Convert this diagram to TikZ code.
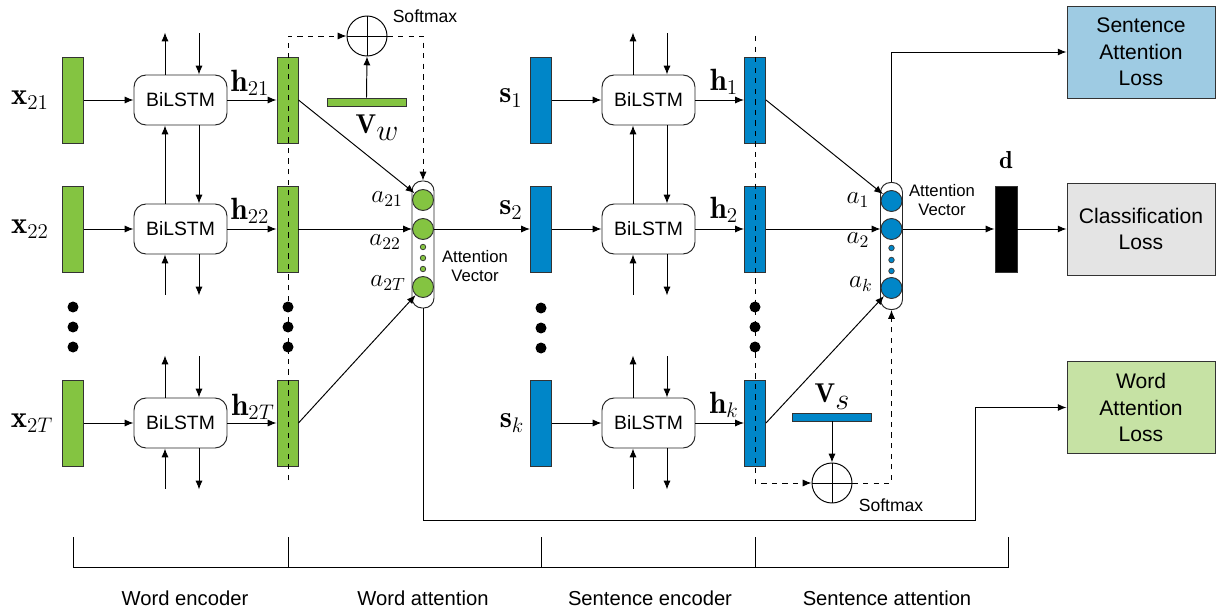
\documentclass[tikz,border=0pt]{standalone}
\usepackage{amsmath, amssymb}
\usepackage{fontspec}
\setsansfont{Liberation Sans}
\usepackage{tikz}
\usetikzlibrary{arrows.meta,calc,positioning}
\usepackage{xcolor}
\definecolor{wordgreen}{HTML}{84C441}
\definecolor{sentblue}{HTML}{0086C8}
\definecolor{sentlossblue}{HTML}{9ECBE3}
\definecolor{classgray}{HTML}{E4E4E4}
\definecolor{wordlossgreen}{HTML}{C6E2A4}
\tikzset{
	thinline/.style={line width=0.55pt},
	bar/.style={draw=black!80, thinline, minimum width=0.42cm, minimum height=1.72cm, inner sep=0pt}
}
\tikzstyle{greenbar}=[bar, fill=wordgreen]
\tikzstyle{bluebar}=[bar, fill=sentblue]
\tikzstyle{lstm}=[draw=black!85, thinline, rounded corners=0.24cm, minimum width=1.86cm, minimum height=1cm, inner sep=0pt, font=\sffamily\fontsize{11}{13}\selectfont]
\tikzstyle{attvec}=[draw=black!85, thinline, rounded corners=0.2cm, minimum width=0.44cm, minimum height=2.54cm, inner sep=0pt, fill=white]
\tikzstyle{attcirc}=[circle, draw=black!80, thinline, minimum size=0.42cm, inner sep=0pt]
\tikzstyle{smallcirc}=[circle, draw=black!80, line width=0.4pt, minimum size=0.11cm, inner sep=0pt]
\tikzstyle{bigdot}=[circle, fill=black, minimum size=0.22cm, inner sep=0pt]
\tikzstyle{softmax}=[circle, draw, thinline, minimum size=0.8cm, inner sep=0pt]
\tikzstyle{vbar}=[draw=black!80, thinline, minimum width=1.58cm, minimum height=0.16cm, inner sep=0pt]
\tikzstyle{lossbox}=[draw=black!80, thinline, minimum width=2.96cm, minimum height=1.84cm, align=center, font=\sffamily\fontsize{12}{15}\selectfont]
\tikzstyle{mathlbl}=[font=\fontsize{17.5}{21}\selectfont]
\tikzstyle{vlbl}=[font=\fontsize{15.5}{18}\selectfont]
\tikzstyle{attlbl}=[font=\fontsize{14}{16}\selectfont]
\tikzstyle{smalltxt}=[font=\sffamily\fontsize{9.5}{11}\selectfont, align=center]
\tikzstyle{softtxt}=[font=\sffamily\fontsize{10}{12}\selectfont]
\tikzstyle{sectxt}=[font=\sffamily\fontsize{11.5}{13}\selectfont]
% big lowered index of the V vectors
\newcommand{\vidx}[1]{\raisebox{-4pt}{\fontsize{17}{20}\selectfont$#1$}}
% arrows leaving and entering a BiLSTM box from free ends
\newcommand{\lstmTop}[1]{
	\draw[->] ([xshift=-0.31cm]#1.north) -- ++(0,-42);
	\draw[<-] ([xshift=0.37cm]#1.north) -- ++(0,-42);
}
\newcommand{\lstmBot}[1]{
	\draw[<-] ([xshift=-0.31cm]#1.south) -- ++(0,41);
	\draw[->] ([xshift=0.37cm]#1.south) -- ++(0,41);
}
\newcommand{\lstmLink}[2]{
	\draw[->] ([xshift=-0.31cm]#2.north) -- ([xshift=-0.31cm]#1.south);
	\draw[->] ([xshift=0.37cm]#1.south) -- ([xshift=0.37cm]#2.north);
}
\begin{document}
\begin{tikzpicture}[x=0.02cm, y=-0.02cm, thinline, >={Latex[length=5pt,width=4pt]}]
	\useasboundingbox (0,0) rectangle (1218,608);
	% word encoder
	\node[greenbar] (x21) at (73,100) {};
	\node[greenbar] (x22) at (73,229) {};
	\node[greenbar] (x2T) at (73,423) {};
	\node[mathlbl] (lx21) at (30,100) {$\mathbf{x}_{21}$};
	\node[mathlbl] (lx22) at (30,229) {$\mathbf{x}_{22}$};
	\node[mathlbl] (lx2T) at (32,423) {$\mathbf{x}_{2T}$};
	\node[bigdot] (dx1) at (73,307) {};
	\node[bigdot] (dx2) at (73,327) {};
	\node[bigdot] (dx3) at (73,347) {};
	\node[lstm] (w1) at (180.5,100) {BiLSTM};
	\node[lstm] (w2) at (180.5,229) {BiLSTM};
	\node[lstm] (w3) at (180.5,423) {BiLSTM};
	\lstmTop{w1}
	\lstmLink{w1}{w2}
	\lstmBot{w2}
	\lstmTop{w3}
	\lstmBot{w3}
	\node[greenbar] (h21) at (287.5,100) {};
	\node[greenbar] (h22) at (287.5,229) {};
	\node[greenbar] (h2T) at (287.5,423) {};
	\node[mathlbl] (lh21) at (250,83) {$\mathbf{h}_{21}$};
	\node[mathlbl] (lh22) at (250,211) {$\mathbf{h}_{22}$};
	\node[mathlbl] (lh2T) at (253,407) {$\mathbf{h}_{2T}$};
	\draw[->] (x21.east) -- (w1.west);
	\draw[->] (x22.east) -- (w2.west);
	\draw[->] (x2T.east) -- (w3.west);
	\draw[->] (w1.east) -- (h21.west);
	\draw[->] (w2.east) -- (h22.west);
	\draw[->] (w3.east) -- (h2T.west);

	% word attention
	\node[softmax] (smw) at (367,36) {};
	\draw (smw.north) -- (smw.south);
	\draw (smw.west) -- (smw.east);
	\node[softtxt] (lsmw) at (425,16) {Softmax};
	\node[vbar, fill=wordgreen] (vw) at (366.5,102) {};
	\node[vlbl] (lvw) at (377,128) {$\mathbf{V}$\vidx{w}};
	\draw[->] (vw.north) -- (smw.south);
	\node[attvec] (attw) at (423,244.5) {};
	\node[attcirc, fill=wordgreen] (cw1) at (423,200) {};
	\node[attcirc, fill=wordgreen] (cw2) at (423,229) {};
	\node[attcirc, fill=wordgreen] (cw3) at (423,287) {};
	\node[smallcirc, fill=wordgreen] (sw1) at (423,247) {};
	\node[smallcirc, fill=wordgreen] (sw2) at (423,258) {};
	\node[smallcirc, fill=wordgreen] (sw3) at (423,269) {};
	\node[attlbl] (la21) at (387,199) {$a_{21}$};
	\node[attlbl] (la22) at (385,242) {$a_{22}$};
	\node[attlbl] (la2T) at (388,283) {$a_{2T}$};
	\node[smalltxt] (avw) at (475,266) {Attention\\Vector};
	\coordinate (dwtop) at (288,36);
	\coordinate (dwbot) at (288,480);
	\draw[dashed,->] (dwbot) -- (dwtop) -- (smw.west);
	\draw[dashed,->] (smw.east) -| (attw.north);
	\node[bigdot] (dh1) at (288,307) {};
	\node[bigdot] (dh2) at (288,327) {};
	\node[bigdot] (dh3) at (288,347) {};
	\draw[->] (h21.east) -- (cw1);
	\draw[->] (h22.east) -- (cw2.west);
	\draw[->] (h2T.east) -- (cw3);

	% sentence encoder
	\node[bluebar] (s1) at (541,100) {};
	\node[bluebar] (s2) at (541,229) {};
	\node[bluebar] (sk) at (541,423) {};
	\node[mathlbl] (ls1) at (511,98) {$\mathbf{s}_{1}$};
	\node[mathlbl] (ls2) at (511,210) {$\mathbf{s}_{2}$};
	\node[mathlbl] (lsk) at (512,423) {$\mathbf{s}_{k}$};
	\node[bigdot] (ds1) at (541,308) {};
	\node[bigdot] (ds2) at (541,328) {};
	\node[bigdot] (ds3) at (541,348) {};
	\draw[->] (attw.east |- cw2) -- (s2.west);
	\node[lstm] (e1) at (648.5,100) {BiLSTM};
	\node[lstm] (e2) at (648.5,229) {BiLSTM};
	\node[lstm] (e3) at (648.5,423) {BiLSTM};
	\lstmTop{e1}
	\lstmLink{e1}{e2}
	\lstmBot{e2}
	\lstmTop{e3}
	\lstmBot{e3}
	\node[bluebar] (h1) at (755,100) {};
	\node[bluebar] (h2) at (755,229) {};
	\node[bluebar] (hk) at (755,423) {};
	\node[mathlbl] (lh1) at (724,82) {$\mathbf{h}_{1}$};
	\node[mathlbl] (lh2) at (724,210) {$\mathbf{h}_{2}$};
	\node[mathlbl] (lhk) at (724,405) {$\mathbf{h}_{k}$};
	\draw[->] (s1.east) -- (e1.west);
	\draw[->] (s2.east) -- (e2.west);
	\draw[->] (sk.east) -- (e3.west);
	\draw[->] (e1.east) -- (h1.west);
	\draw[->] (e2.east) -- (h2.west);
	\draw[->] (e3.east) -- (hk.west);

	% sentence attention
	\node[softmax] (sms) at (832,483) {};
	\draw (sms.north) -- (sms.south);
	\draw (sms.west) -- (sms.east);
	\node[softtxt] (lsms) at (891,505) {Softmax};
	\node[vbar, fill=sentblue] (vs) at (832,417) {};
	\node[vlbl] (lvs) at (832,397) {$\mathbf{V}$\vidx{s}};
	\draw[->] (vs.south) -- (sms.north);
	\node[attvec] (atts) at (891.5,246) {};
	\node[attcirc, fill=sentblue] (cs1) at (891.5,201) {};
	\node[attcirc, fill=sentblue] (cs2) at (891.5,229) {};
	\node[attcirc, fill=sentblue] (cs3) at (891.5,288) {};
	\node[smallcirc, fill=sentblue] (ss1) at (891.5,248) {};
	\node[smallcirc, fill=sentblue] (ss2) at (891.5,260) {};
	\node[smallcirc, fill=sentblue] (ss3) at (891.5,271) {};
	\node[attlbl] (la1) at (858,200) {$a_{1}$};
	\node[attlbl] (la2) at (858,240) {$a_{2}$};
	\node[attlbl] (lak) at (861,284) {$a_{k}$};
	\node[smalltxt] (avs) at (942,200) {Attention\\Vector};
	\coordinate (dstop) at (755,36);
	\coordinate (dsbot) at (755,483);
	\draw[dashed,->] (dstop) -- (dsbot) -- (sms.west);
	\draw[dashed,->] (sms.east) -| (atts.south);
	\node[bigdot] (dk1) at (755,307) {};
	\node[bigdot] (dk2) at (755,327) {};
	\node[bigdot] (dk3) at (755,347) {};
	\draw[->] (h1.east) -- (cs1);
	\draw[->] (h2.east) -- (cs2.west);
	\draw[->] (hk.east) -- (cs3);

	% outputs and losses
	\node[bar, fill=black, minimum width=0.44cm] (dvec) at (1006,229) {};
	\node[mathlbl, font=\fontsize{14}{16}\selectfont, above=0.22cm of dvec] (ld) {$\mathbf{d}$};
	\node[lossbox, fill=sentlossblue] (sal) at (1141,52) {Sentence\\Attention\\Loss};
	\node[lossbox, fill=classgray] (cl) at (1141,229) {Classification\\Loss};
	\node[lossbox, fill=wordlossgreen] (wal) at (1141,407.5) {Word\\Attention\\Loss};
	\draw[->] (atts.north) |- (sal.west);
	\draw[->] (atts.east |- cs2) -- (dvec.west);
	\draw[->] (dvec.east) -- (cl.west);
	\coordinate (wbend) at (975,520);
	\draw[->] (attw.south) |- (wbend) |- (wal.west);

	% sections
	\draw (73,537) -- (73,567) -- (1008,567) -- (1008,537);
	\draw (288,537) -- (288,567);
	\draw (541,537) -- (541,567);
	\draw (755,537) -- (755,567);
	\node[sectxt] (secwe) at (185,598) {Word encoder};
	\node[sectxt] (secwa) at (423,598) {Word attention};
	\node[sectxt] (secse) at (650,598) {Sentence encoder};
	\node[sectxt] (secsa) at (887,598) {Sentence attention};
\end{tikzpicture}
\end{document}
